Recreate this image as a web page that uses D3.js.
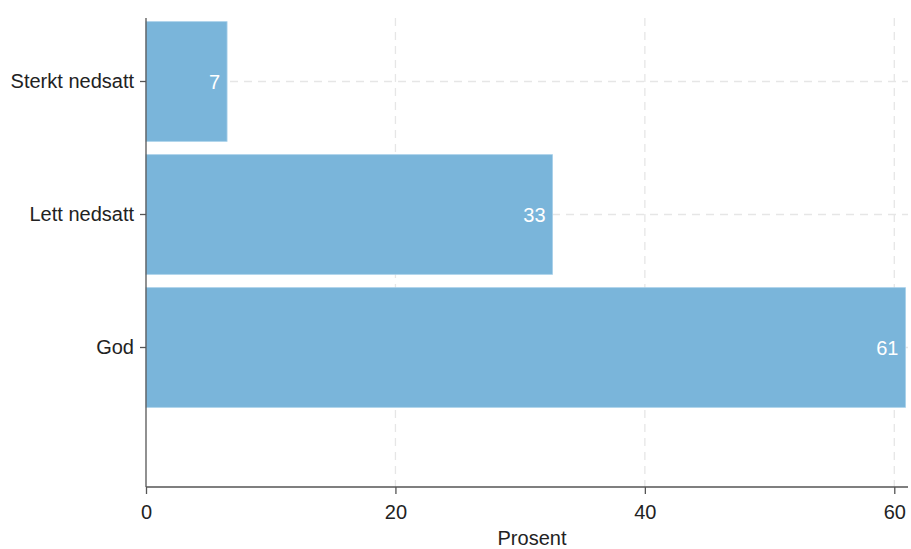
<!DOCTYPE html>
<html><head><meta charset="utf-8">
<script src="https://cdn.jsdelivr.net/npm/d3@7"></script>
<style>body{margin:0;background:#fff}svg{display:block}text{font-family:"Liberation Sans",Arial,sans-serif}</style>
</head><body><svg id="c" width="911" height="549"></svg>
<script>
const categories = ["Sterkt nedsatt", "Lett nedsatt", "God"];
const values = [6.5, 32.6, 60.9];
const xTicks = [0, 20, 40, 60];
const xTitle = "Prosent";

const svg = d3.select("#c");
const x = d3.scaleLinear().domain([0, 61.1]).range([146, 908]);
const y = d3.scaleBand().domain(categories).range([15, 414]).paddingInner(0.1).paddingOuter(0.05);
const yTop = 18, yBot = 487;
const fs = 20;

// grid
svg.append("g").selectAll("line").data(xTicks.filter(d => d > 0)).join("line")
  .attr("x1", d => x(d)).attr("x2", d => x(d)).attr("y1", yTop).attr("y2", yBot)
  .attr("stroke", "#e6e6e6").attr("stroke-width", 1.3).attr("stroke-dasharray", "8,6");
svg.append("g").selectAll("line").data(categories).join("line")
  .attr("x1", x(0)).attr("x2", 908).attr("y1", d => y(d) + y.bandwidth()/2).attr("y2", d => y(d) + y.bandwidth()/2)
  .attr("stroke", "#e6e6e6").attr("stroke-width", 1.3).attr("stroke-dasharray", "8,6");

// bars
svg.append("g").selectAll("rect").data(categories).join("rect")
  .attr("x", x(0)).attr("y", d => y(d))
  .attr("width", (d, i) => x(values[i]) - x(0)).attr("height", y.bandwidth())
  .attr("fill", "#7ab5da").attr("stroke", "#a8d0ea").attr("stroke-width", 0.8);

// value labels
svg.append("g").selectAll("text").data(categories).join("text")
  .attr("x", (d, i) => x(values[i]) - 7).attr("y", d => y(d) + y.bandwidth()/2)
  .attr("dy", "0.35em").attr("text-anchor", "end").attr("fill", "#fff").attr("font-size", fs)
  .text((d, i) => Math.round(values[i]));

// x axis
const xa = svg.append("g").attr("transform", `translate(0,${yBot})`)
  .call(d3.axisBottom(x).tickValues(xTicks).tickSize(7).tickPadding(11).tickSizeOuter(0));
xa.select(".domain").attr("stroke", "#555").attr("stroke-width", 1.3).attr("d", `M146,0H908`);
xa.selectAll(".tick line").attr("stroke", "#555").attr("stroke-width", 1.3);
xa.selectAll(".tick text").attr("font-size", fs).attr("fill", "#222").attr("font-family", "Liberation Sans, Arial, sans-serif");

// y axis
const ya = svg.append("g").attr("transform", `translate(${x(0)},0)`)
  .call(d3.axisLeft(y).tickSize(6).tickPadding(6).tickSizeOuter(0));
ya.select(".domain").attr("stroke", "#555").attr("stroke-width", 1.3).attr("d", `M0,${yTop}V${yBot}`);
ya.selectAll(".tick line").attr("stroke", "#555").attr("stroke-width", 1.3);
ya.selectAll(".tick text").attr("font-size", fs).attr("fill", "#222").attr("font-family", "Liberation Sans, Arial, sans-serif");

svg.append("text").attr("x", (146 + 908)/2 + 5).attr("y", 545).attr("text-anchor", "middle")
  .attr("font-size", fs).attr("fill", "#222").text(xTitle);
</script></body></html>
